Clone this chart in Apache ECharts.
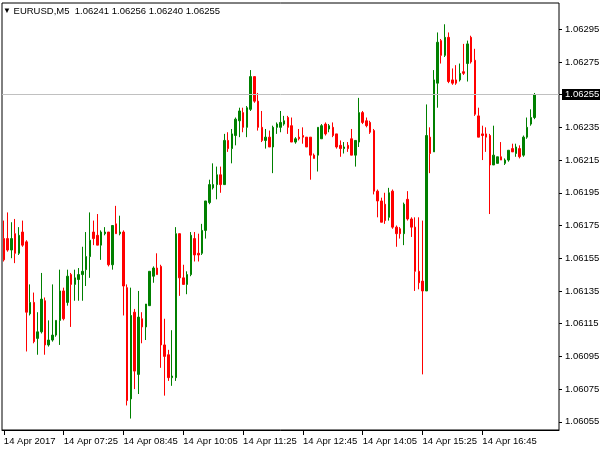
<!DOCTYPE html>
<html>
<head>
<meta charset="utf-8">
<script src="https://cdn.jsdelivr.net/npm/echarts@6/dist/echarts.min.js"></script>
<style>
html,body{margin:0;padding:0;background:#fff;}
#chart{width:600px;height:450px;}
</style>
</head>
<body>
<div id="chart"></div>
<script>
// Header
const symbolTitle = 'EURUSD,M5';
const lastOHLC = ['1.06241', '1.06256', '1.06240', '1.06255'];
const bidPrice = 1.06255;

// X tick labels (every 16 bars)
const tickLabels = ['14 Apr 2017', '14 Apr 07:25', '14 Apr 08:45', '14 Apr 10:05', '14 Apr 11:25',
  '14 Apr 12:45', '14 Apr 14:05', '14 Apr 15:25', '14 Apr 16:45'];
const tickEvery = 16;

// Y tick labels
const yTicks = [1.06055, 1.06075, 1.06095, 1.06115, 1.06135, 1.06155, 1.06175,
  1.06195, 1.06215, 1.06235, 1.06255, 1.06275, 1.06295];

// OHLC data
const opens = [
1.06167,1.06167,1.06160,1.06170,1.06158,1.06171,1.06165,1.06121,1.06128,1.06106,
1.06110,1.06129,1.06102,1.06105,1.06108,1.06117,1.06135,1.06128,1.06145,1.06139,
1.06142,1.06145,1.06148,1.06156,1.06171,1.06169,1.06163,1.06170,1.06171,1.06151,
1.06176,1.06170,1.06171,1.06137,1.06069,1.06122,1.06084,1.06118,1.06113,1.06126,
1.06144,1.06149,1.06150,1.06102,1.06096,1.06082,1.06082,1.06170,1.06143,1.06139,
1.06145,1.06167,1.06158,1.06158,1.06172,1.06189,1.06198,1.06200,1.06206,1.06200,
1.06227,1.06222,1.06230,1.06239,1.06244,1.06235,1.06246,1.06266,1.06251,1.06235,
1.06227,1.06229,1.06223,1.06235,1.06235,1.06237,1.06241,1.06236,1.06226,1.06229,
1.06230,1.06229,1.06229,1.06218,1.06218,1.06228,1.06237,1.06234,1.06235,1.06231,
1.06224,1.06222,1.06224,1.06228,1.06218,1.06226,1.06244,1.06239,1.06238,1.06233,
1.06196,1.06190,1.06188,1.06180,1.06196,1.06174,1.06173,1.06170,1.06191,1.06179,
1.06174,1.06147,1.06141,1.06135,1.06229,1.06220,1.06262,1.06288,1.06279,1.06290,
1.06264,1.06264,1.06264,1.06269,1.06274,1.06290,1.06276,1.06242,1.06231,1.06231,
1.06230,1.06212,1.06213,1.06217,1.06213,1.06215,1.06222,1.06219,1.06222,1.06218,
1.06229,1.06237,1.06241];
const highs = [
1.06178,1.06183,1.06177,1.06179,1.06174,1.06178,1.06166,1.06139,1.06134,1.06122,
1.06146,1.06131,1.06117,1.06139,1.06117,1.06148,1.06137,1.06148,1.06146,1.06148,
1.06149,1.06162,1.06171,1.06183,1.06178,1.06182,1.06172,1.06174,1.06171,1.06175,
1.06187,1.06181,1.06172,1.06139,1.06137,1.06124,1.06135,1.06122,1.06127,1.06147,
1.06150,1.06158,1.06151,1.06118,1.06099,1.06111,1.06174,1.06170,1.06151,1.06147,
1.06171,1.06171,1.06170,1.06176,1.06190,1.06203,1.06213,1.06211,1.06211,1.06231,
1.06232,1.06234,1.06241,1.06247,1.06247,1.06248,1.06270,1.06266,1.06256,1.06245,
1.06234,1.06233,1.06236,1.06238,1.06245,1.06242,1.06242,1.06241,1.06229,1.06234,
1.06235,1.06229,1.06229,1.06219,1.06235,1.06237,1.06238,1.06237,1.06238,1.06231,
1.06227,1.06226,1.06226,1.06234,1.06227,1.06253,1.06245,1.06241,1.06239,1.06234,
1.06197,1.06192,1.06195,1.06198,1.06197,1.06175,1.06174,1.06189,1.06196,1.06180,
1.06180,1.06180,1.06178,1.06249,1.06235,1.06270,1.06293,1.06289,1.06298,1.06293,
1.06271,1.06273,1.06274,1.06286,1.06288,1.06291,1.06283,1.06247,1.06236,1.06235,
1.06231,1.06236,1.06217,1.06226,1.06216,1.06221,1.06225,1.06225,1.06224,1.06230,
1.06241,1.06246,1.06256];
const lows = [
1.06153,1.06159,1.06155,1.06152,1.06157,1.06162,1.06098,1.06120,1.06103,1.06096,
1.06109,1.06096,1.06101,1.06104,1.06107,1.06102,1.06117,1.06126,1.06113,1.06129,
1.06129,1.06129,1.06138,1.06143,1.06163,1.06163,1.06154,1.06169,1.06150,1.06148,
1.06170,1.06169,1.06120,1.06065,1.06057,1.06075,1.06072,1.06103,1.06105,1.06126,
1.06140,1.06145,1.06088,1.06071,1.06080,1.06077,1.06080,1.06132,1.06139,1.06133,
1.06144,1.06153,1.06153,1.06157,1.06167,1.06188,1.06197,1.06191,1.06195,1.06200,
1.06220,1.06213,1.06224,1.06229,1.06232,1.06229,1.06245,1.06250,1.06233,1.06226,
1.06222,1.06223,1.06207,1.06231,1.06232,1.06236,1.06231,1.06226,1.06225,1.06227,
1.06225,1.06223,1.06203,1.06216,1.06208,1.06228,1.06230,1.06232,1.06229,1.06222,
1.06217,1.06219,1.06220,1.06218,1.06211,1.06223,1.06237,1.06235,1.06231,1.06194,
1.06180,1.06177,1.06176,1.06178,1.06173,1.06162,1.06167,1.06163,1.06178,1.06168,
1.06135,1.06136,1.06084,1.06135,1.06207,1.06220,1.06247,1.06274,1.06278,1.06262,
1.06261,1.06261,1.06263,1.06267,1.06263,1.06274,1.06242,1.06229,1.06215,1.06220,
1.06182,1.06212,1.06213,1.06215,1.06212,1.06214,1.06220,1.06217,1.06216,1.06217,
1.06228,1.06236,1.06240];
const closes = [
1.06154,1.06160,1.06167,1.06158,1.06169,1.06163,1.06122,1.06128,1.06104,1.06110,
1.06130,1.06102,1.06105,1.06108,1.06117,1.06135,1.06118,1.06144,1.06139,1.06143,
1.06145,1.06147,1.06156,1.06166,1.06167,1.06163,1.06171,1.06171,1.06151,1.06175,
1.06170,1.06171,1.06138,1.06068,1.06120,1.06086,1.06119,1.06113,1.06127,1.06147,
1.06149,1.06145,1.06102,1.06095,1.06082,1.06083,1.06170,1.06143,1.06139,1.06145,
1.06169,1.06157,1.06157,1.06172,1.06190,1.06200,1.06200,1.06206,1.06200,1.06227,
1.06222,1.06231,1.06240,1.06245,1.06235,1.06247,1.06266,1.06251,1.06235,1.06227,
1.06229,1.06223,1.06235,1.06237,1.06238,1.06239,1.06235,1.06226,1.06228,1.06228,
1.06229,1.06223,1.06218,1.06216,1.06235,1.06236,1.06231,1.06236,1.06230,1.06223,
1.06222,1.06223,1.06222,1.06218,1.06227,1.06244,1.06238,1.06236,1.06232,1.06196,
1.06190,1.06177,1.06178,1.06195,1.06174,1.06170,1.06170,1.06188,1.06179,1.06174,
1.06147,1.06140,1.06135,1.06230,1.06219,1.06264,1.06287,1.06279,1.06290,1.06263,
1.06262,1.06262,1.06268,1.06268,1.06286,1.06275,1.06243,1.06229,1.06230,1.06229,
1.06212,1.06218,1.06217,1.06215,1.06215,1.06221,1.06220,1.06223,1.06217,1.06229,
1.06235,1.06241,1.06255];

const categories = opens.map((_, i) => String(i));
const candleData = opens.map((o, i) => [o, closes[i], lows[i], highs[i]]);
const showTick = (i) => i % tickEvery === 0 && i < opens.length;

const FONT = '"Liberation Sans", Arial, sans-serif';
const Y_MIN = 1.0605, Y_MAX = 1.06311;
const chart = echarts.init(document.getElementById('chart'), null, {renderer: 'canvas'});
chart.setOption({
  animation: false,
  backgroundColor: '#ffffff',
  title: {
    text: '{tri|▼} ' + symbolTitle + '  ' + lastOHLC.join(' '),
    left: 3, top: 6, padding: 0,
    textStyle: {
      fontFamily: FONT, fontSize: 9.5, fontWeight: 'normal', color: '#000',
      rich: { tri: { fontSize: 8, color: '#000', fontFamily: FONT } }
    }
  },
  grid: {
    left: 2, right: 41, top: 3, bottom: 20,
    outerBoundsMode: 'none', containLabel: false,
    show: true, borderColor: '#000', borderWidth: 1, backgroundColor: '#fff'
  },
  xAxis: {
    type: 'category',
    data: categories,
    max: 148,
    boundaryGap: true,
    axisLine: { show: true, lineStyle: { color: '#000', width: 1 } },
    axisTick: { show: true, alignWithLabel: true, length: 5, interval: (i) => showTick(i), lineStyle: { color: '#000' } },
    axisLabel: {
      show: true, interval: (i) => showTick(i), align: 'left', margin: 6,
      fontFamily: FONT, fontSize: 9.5, color: '#000',
      formatter: (v, i) => (showTick(Number(v)) ? tickLabels[Number(v) / tickEvery] : '')
    },
    splitLine: { show: false }
  },
  yAxis: [{
    type: 'value',
    position: 'right',
    min: Y_MIN,
    max: Y_MAX,
    axisLine: { show: false },
    axisTick: { show: true, length: 3, customValues: yTicks, lineStyle: { color: '#000' } },
    axisLabel: {
      show: true, customValues: yTicks, margin: 6,
      fontFamily: FONT, fontSize: 9.5, color: '#000',
      formatter: (v) => Number(v).toFixed(5)
    },
    splitLine: { show: false }
  }, {
    type: 'value',
    position: 'right',
    offset: 0,
    z: 5,
    min: Y_MIN,
    max: Y_MAX,
    axisLine: { show: false },
    axisTick: { show: false, customValues: [bidPrice] },
    axisLabel: {
      show: true, customValues: [bidPrice], margin: 3,
      fontFamily: FONT, fontSize: 9.5, color: '#fff',
      backgroundColor: '#000', padding: [1, 3, 0, 3],
      formatter: (v) => Number(v).toFixed(5)
    },
    splitLine: { show: true, lineStyle: { color: '#c0c0c0', width: 1, type: 'solid' } }
  }],
  series: [{
    type: 'candlestick',
    data: candleData,
    barWidth: 2,
    itemStyle: {
      color: '#008000', color0: '#ff0000',
      borderColor: '#008000', borderColor0: '#ff0000', borderWidth: 1
    }
  }]
});
</script>
</body>
</html>
